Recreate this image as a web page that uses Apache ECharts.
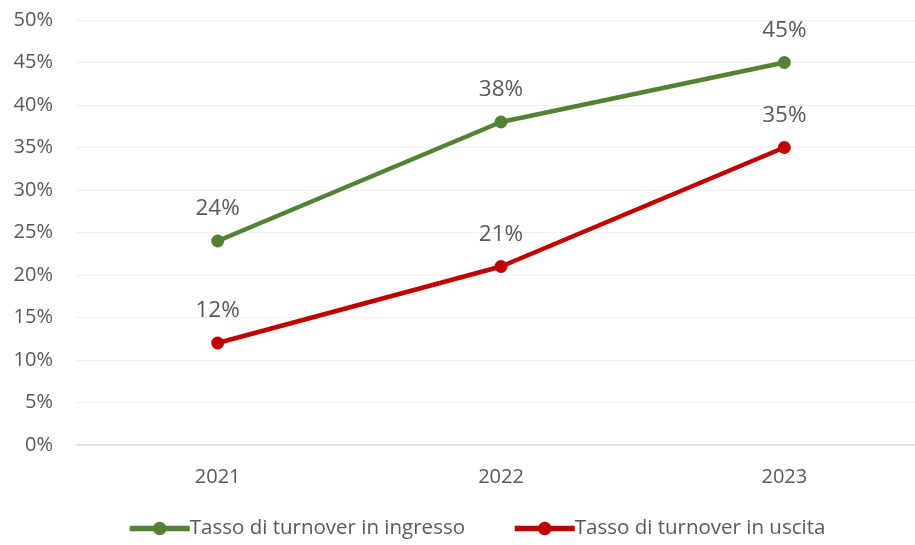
<!DOCTYPE html>
<html>
<head>
<meta charset="utf-8">
<script src="https://cdn.jsdelivr.net/npm/echarts@6/dist/echarts.min.js"></script>
<style>
  html, body { margin: 0; padding: 0; background: #fff; overflow: hidden; }
  #chart { width: 926px; height: 545px; }
</style>
</head>
<body>
<div id="chart"></div>
<script>
// dati
var years = ['2021', '2022', '2023'];
var ingresso = [24, 38, 45];
var uscita = [12, 21, 35];
var seriesNames = ['Tasso di turnover in ingresso', 'Tasso di turnover in uscita'];

var font = '"Open Sans", Lato, sans-serif';
var grey = '#595959';

// il grafico originale esce un po' oltre il bordo destro
var chart = echarts.init(document.getElementById('chart'));

function lineSeries(name, data, color) {
    return {
        name: name,
        type: 'line',
        data: data,
        symbol: 'circle',
        symbolSize: 13,
        lineStyle: { width: 4.5, color: color },
        itemStyle: { color: color },
        label: {
            show: true,
            position: 'top',
            distance: 14,
            formatter: '{c}%',
            color: grey,
            fontSize: 22.5,
            fontFamily: font
        },
        emphasis: { disabled: true }
    };
}

chart.setOption({
    animation: false,
    textStyle: { fontFamily: font },
    grid: { left: 76, right: 0, top: 20, bottom: 100 },
    xAxis: {
        type: 'category',
        data: years,
        axisLine: { lineStyle: { color: '#d9d9d9', width: 1.5 } },
        axisTick: { show: false },
        axisLabel: { color: grey, fontSize: 20, margin: 22, fontFamily: font }
    },
    yAxis: {
        type: 'value',
        min: 0,
        max: 50,
        interval: 5,
        axisLine: { show: false },
        axisTick: { show: false },
        axisLabel: { color: grey, fontSize: 20, margin: 23, formatter: '{value}%', fontFamily: font },
        splitLine: { lineStyle: { color: '#efefef', width: 1.2 } }
    },
    legend: {
        bottom: 1,
        left: 122,
        itemWidth: 60,
        itemHeight: 17,
        itemGap: 47,
        lineStyle: { width: 5.5 },
        textStyle: { color: grey, fontSize: 20.5, fontFamily: font, padding: [0, 0, 0, -5] },
        data: seriesNames
    },
    series: [
        lineSeries(seriesNames[0], ingresso, '#548235'),
        lineSeries(seriesNames[1], uscita, '#C00000')
    ]
});
</script>
</body>
</html>
